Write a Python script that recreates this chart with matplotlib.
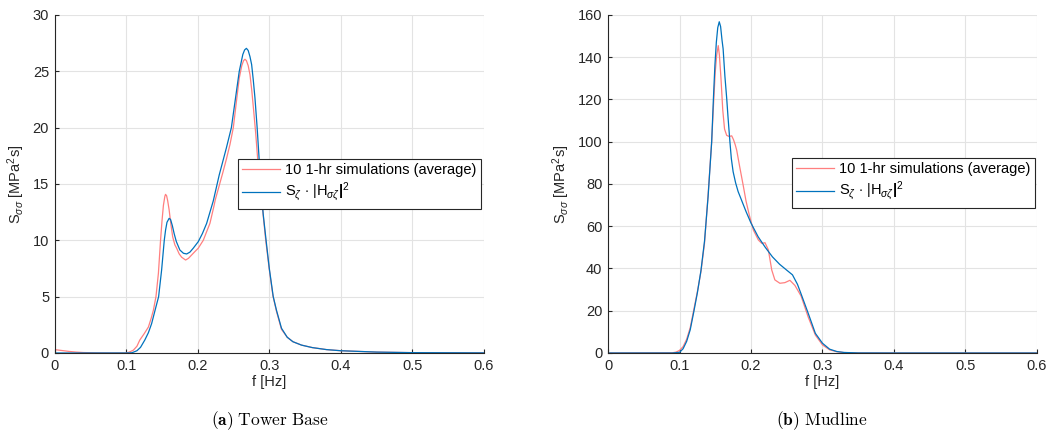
import matplotlib
matplotlib.use("Agg")
import matplotlib.pyplot as plt

plt.rcParams['font.family'] = ['Liberation Sans', 'DejaVu Sans']
plt.rcParams['mathtext.fontset'] = 'custom'
plt.rcParams['mathtext.rm'] = 'Liberation Sans'
plt.rcParams['mathtext.it'] = 'Liberation Sans:italic'
plt.rcParams['mathtext.bf'] = 'Liberation Sans:bold'

# ---- Tower base: simulated average spectrum ----
tb_sim_f = [0.0, 0.01, 0.02, 0.03, 0.04, 0.06, 0.08, 0.10, 0.105, 0.11, 0.115,
            0.119, 0.125, 0.131, 0.135, 0.138, 0.1416, 0.145, 0.148, 0.150,
            0.152, 0.154, 0.155, 0.1565, 0.158, 0.160, 0.1625, 0.165, 0.168,
            0.1705, 0.174, 0.1775, 0.183, 0.187, 0.1915, 0.196, 0.2007, 0.2077,
            0.212, 0.217, 0.2225, 0.2245, 0.235, 0.24, 0.245, 0.2497, 0.254,
            0.258, 0.2615, 0.264, 0.266, 0.268, 0.2705, 0.273, 0.2755, 0.278,
            0.281, 0.284, 0.287, 0.2915, 0.295, 0.30, 0.305, 0.31, 0.317,
            0.325, 0.333, 0.345, 0.36, 0.38, 0.40, 0.45, 0.50, 0.60]
tb_sim_s = [0.30, 0.22, 0.14, 0.08, 0.04, 0.01, 0.0, 0.0, 0.1, 0.25, 0.6,
            1.15, 1.7, 2.3, 3.1, 3.8, 5.0, 7.07, 10.0, 11.7,
            13.1, 13.9, 14.08, 13.95, 13.5, 12.7, 11.4, 10.3, 9.6,
            9.3, 8.8, 8.5, 8.25, 8.4, 8.7, 9.0, 9.3, 10.0,
            10.7, 11.5, 13.0, 13.6, 16.0, 17.2, 18.5, 20.0, 22.3,
            24.4, 25.5, 25.95, 26.07, 25.95, 25.5, 24.7, 23.3, 21.6,
            19.5, 17.0, 15.0, 12.2, 10.0, 7.4, 5.1, 3.7, 2.1,
            1.4, 1.0, 0.7, 0.48, 0.3, 0.2, 0.08, 0.03, 0.01]

# ---- Tower base: S_zeta * |H|^2 ----
tb_tf_f = [0.0, 0.10, 0.108, 0.115, 0.12, 0.126, 0.131, 0.1355, 0.1416,
           0.1453, 0.1495, 0.1532, 0.155, 0.157, 0.160, 0.162, 0.1645, 0.167,
           0.170, 0.175, 0.18, 0.1845, 0.189, 0.1937, 0.2007, 0.2065, 0.2124,
           0.2217, 0.23, 0.24, 0.247, 0.2525, 0.258, 0.263, 0.2655, 0.268,
           0.2705, 0.273, 0.2753, 0.2775, 0.28, 0.283, 0.288, 0.2915, 0.2955,
           0.30, 0.3055, 0.31, 0.317, 0.325, 0.333, 0.345, 0.36, 0.38, 0.40,
           0.45, 0.50, 0.60]
tb_tf_s = [0.0, 0.0, 0.02, 0.2, 0.5, 1.15, 1.8, 2.6, 4.1,
           5.0, 7.37, 10.0, 10.9, 11.6, 11.95, 11.85, 11.3, 10.6,
           9.9, 9.14, 8.85, 8.79, 8.95, 9.3, 9.88, 10.6, 11.5,
           13.5, 15.8, 18.2, 20.0, 22.5, 25.0, 26.5, 26.9, 27.04,
           26.85, 26.3, 25.6, 24.3, 22.6, 20.0, 15.0, 12.3, 10.0,
           7.5, 5.0, 3.8, 2.2, 1.4, 1.0, 0.7, 0.48, 0.3, 0.2,
           0.08, 0.03, 0.01]

# ---- Mudline: simulated average spectrum ----
ml_sim_f = [0.0, 0.09, 0.095, 0.10, 0.105, 0.11, 0.115, 0.12, 0.125, 0.13,
            0.135, 0.14, 0.145, 0.1475, 0.15, 0.152, 0.1542, 0.1558, 0.158,
            0.1605, 0.163, 0.166, 0.1695, 0.173, 0.1755, 0.178, 0.18, 0.184,
            0.189, 0.193, 0.1976, 0.2033, 0.2103, 0.215, 0.2196, 0.2243,
            0.229, 0.2334, 0.2404, 0.2474, 0.2544, 0.2614, 0.27, 0.28, 0.29,
            0.30, 0.31, 0.32, 0.33, 0.35, 0.40, 0.60]
ml_sim_s = [0.0, 0.1, 0.4, 1.2, 3.0, 6.5, 12.0, 20.5, 29.0, 38.5,
            52.0, 75.0, 100.0, 117.0, 133.0, 141.0, 145.5, 141.0, 130.0,
            115.0, 106.0, 103.0, 102.5, 102.8, 101.0, 98.5, 96.0, 88.5,
            79.5, 72.0, 65.3, 58.2, 53.5, 51.9, 52.2, 48.8,
            39.3, 34.6, 33.0, 33.3, 34.4, 32.0, 27.0, 17.0, 8.5,
            3.8, 1.5, 0.6, 0.2, 0.03, 0.0, 0.0]

# ---- Mudline: S_zeta * |H|^2 ----
ml_tf_f = [0.0, 0.09, 0.10, 0.105, 0.11, 0.115, 0.12, 0.125, 0.13, 0.135,
           0.14, 0.145, 0.1475, 0.1495, 0.1515, 0.1535, 0.1556, 0.1575,
           0.1595, 0.161, 0.1635, 0.166, 0.168, 0.1705, 0.1725, 0.175,
           0.1785, 0.182, 0.186, 0.193, 0.20, 0.21, 0.22, 0.23, 0.24, 0.25,
           0.258, 0.265, 0.27, 0.28, 0.29, 0.30, 0.31, 0.32, 0.33, 0.35,
           0.40, 0.60]
ml_tf_s = [0.0, 0.0, 0.3, 2.0, 5.5, 11.0, 19.5, 28.5, 39.0, 53.0,
           74.0, 100.0, 121.0, 136.0, 147.0, 154.0, 156.8, 154.5,
           148.0, 144.0, 131.0, 120.6, 111.0, 100.0, 92.0, 85.8,
           80.5, 76.4, 73.0, 67.0, 61.5, 55.0, 50.0, 45.5, 42.0, 39.2,
           37.0, 32.5, 28.0, 18.8, 9.3, 4.6, 1.8, 0.7, 0.25, 0.03,
           0.0, 0.0]

x_ticks = [0, 0.1, 0.2, 0.3, 0.4, 0.5, 0.6]
x_tick_labels = ['0', '0.1', '0.2', '0.3', '0.4', '0.5', '0.6']
tb_y_ticks = [0, 5, 10, 15, 20, 25, 30]
ml_y_ticks = [0, 20, 40, 60, 80, 100, 120, 140, 160]

legend_labels = ['10 1-hr simulations (average)',
                 r'S$_{\zeta}$ $\cdot$ |H$_{\sigma\zeta}$$\mathbf{|}$$^{2}$']
captions = [r'$\mathbf{(a)}\ \mathrm{Tower\ Base}$',
            r'$\mathbf{(b)}\ \mathrm{Mudline}$']

RED = '#FF7F7F'
BLUE = '#0072BD'
AXC = '#262626'
FS = 10.5

fig = plt.figure(figsize=(10.53, 4.32), dpi=100)
ax1 = fig.add_axes([0.0519, 0.1829, 0.4077, 0.7824])
ax2 = fig.add_axes([0.5774, 0.1829, 0.4074, 0.7824])

panels = [
    (ax1, tb_sim_f, tb_sim_s, tb_tf_f, tb_tf_s, tb_y_ticks, 30, (0.427, 0.574)),
    (ax2, ml_sim_f, ml_sim_s, ml_tf_f, ml_tf_s, ml_y_ticks, 160, (0.429, 0.577)),
]

for ax, sf, ss, tf, ts, yt, ymax, lpos in panels:
    l1, = ax.plot(sf, ss, color=RED, lw=0.9)
    l2, = ax.plot(tf, ts, color=BLUE, lw=0.9)
    ax.set_xlim(0, 0.6)
    ax.set_ylim(0, ymax)
    ax.set_xticks(x_ticks)
    ax.set_xticklabels(x_tick_labels)
    ax.set_yticks(yt)
    ax.grid(True, color='#E3E3E3', lw=0.8)
    ax.set_axisbelow(True)
    for s in ['top', 'right']:
        ax.spines[s].set_visible(False)
    for s in ['left', 'bottom']:
        ax.spines[s].set_color(AXC)
        ax.spines[s].set_linewidth(0.8)
    ax.tick_params(direction='in', length=3, width=0.8, colors=AXC,
                   labelsize=FS, labelcolor=AXC, pad=4)
    ax.set_xlabel('f [Hz]', fontsize=FS, color=AXC, labelpad=2)
    ax.set_ylabel(r'S$_{\sigma\sigma}$ [MPa$^{2}$s]', fontsize=FS,
                  color=AXC, labelpad=4)
    leg = ax.legend([l1, l2], legend_labels, loc='upper left',
                    bbox_to_anchor=lpos, borderaxespad=0, fontsize=FS,
                    fancybox=False, framealpha=1, edgecolor=AXC,
                    handlelength=2.6, handletextpad=0.35, borderpad=0.3,
                    labelspacing=0.25)
    leg.get_frame().set_linewidth(0.8)

fig.text(0.256, 0.027, captions[0], ha='center', va='center', fontsize=12.5,
         math_fontfamily='cm')
fig.text(0.781, 0.027, captions[1], ha='center', va='center', fontsize=12.5,
         math_fontfamily='cm')

fig.savefig('out.png', dpi=100)
